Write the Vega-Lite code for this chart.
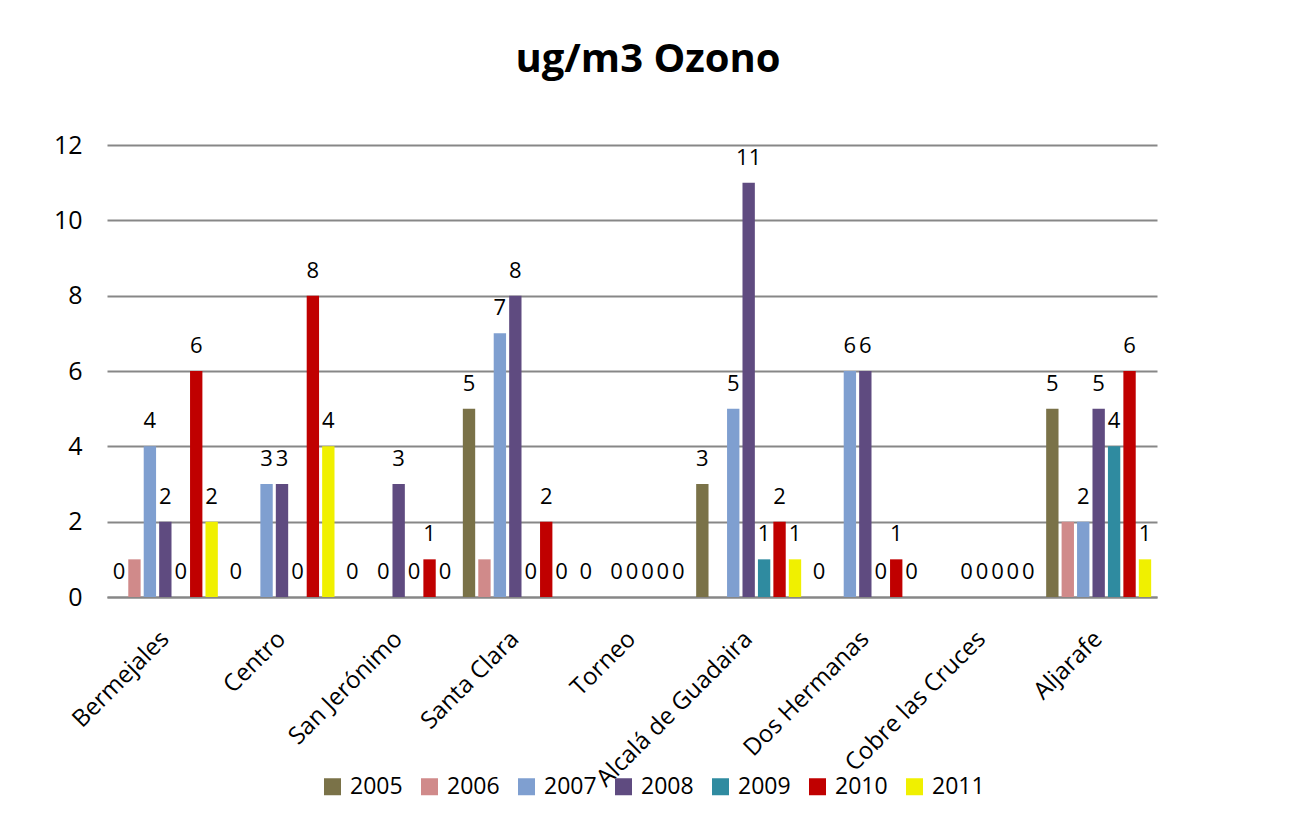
{
  "$schema": "https://vega.github.io/schema/vega-lite/v6.json",
  "width": 1050,
  "height": 452,
  "autosize": {"type": "none"},
  "padding": {"left": 107, "top": 145, "right": 142, "bottom": 225},
  "background": "white",
  "title": {"text": "ug/m3 Ozono", "font": "Open Sans", "fontSize": 40, "fontWeight": "bold", "color": "black", "anchor": "middle", "frame": "group", "baseline": "alphabetic", "offset": 21, "dx": 16},
  "data": {"values": [
    {"site": "Bermejales", "year": "2005", "value": 0},
    {"site": "Bermejales", "year": "2006", "value": 1},
    {"site": "Bermejales", "year": "2007", "value": 4},
    {"site": "Bermejales", "year": "2008", "value": 2},
    {"site": "Bermejales", "year": "2009", "value": 0},
    {"site": "Bermejales", "year": "2010", "value": 6},
    {"site": "Bermejales", "year": "2011", "value": 2},
    {"site": "Centro", "year": "2005", "value": 0},
    {"site": "Centro", "year": "2006", "value": 0},
    {"site": "Centro", "year": "2007", "value": 3},
    {"site": "Centro", "year": "2008", "value": 3},
    {"site": "Centro", "year": "2009", "value": 0},
    {"site": "Centro", "year": "2010", "value": 8},
    {"site": "Centro", "year": "2011", "value": 4},
    {"site": "San Jerónimo", "year": "2005", "value": 0},
    {"site": "San Jerónimo", "year": "2006", "value": 0},
    {"site": "San Jerónimo", "year": "2007", "value": 0},
    {"site": "San Jerónimo", "year": "2008", "value": 3},
    {"site": "San Jerónimo", "year": "2009", "value": 0},
    {"site": "San Jerónimo", "year": "2010", "value": 1},
    {"site": "San Jerónimo", "year": "2011", "value": 0},
    {"site": "Santa Clara", "year": "2005", "value": 5},
    {"site": "Santa Clara", "year": "2006", "value": 1},
    {"site": "Santa Clara", "year": "2007", "value": 7},
    {"site": "Santa Clara", "year": "2008", "value": 8},
    {"site": "Santa Clara", "year": "2009", "value": 0},
    {"site": "Santa Clara", "year": "2010", "value": 2},
    {"site": "Santa Clara", "year": "2011", "value": 0},
    {"site": "Torneo", "year": "2005", "value": 0},
    {"site": "Torneo", "year": "2006", "value": 0},
    {"site": "Torneo", "year": "2007", "value": 0},
    {"site": "Torneo", "year": "2008", "value": 0},
    {"site": "Torneo", "year": "2009", "value": 0},
    {"site": "Torneo", "year": "2010", "value": 0},
    {"site": "Torneo", "year": "2011", "value": 0},
    {"site": "Alcalá de Guadaira", "year": "2005", "value": 3},
    {"site": "Alcalá de Guadaira", "year": "2006", "value": 0},
    {"site": "Alcalá de Guadaira", "year": "2007", "value": 5},
    {"site": "Alcalá de Guadaira", "year": "2008", "value": 11},
    {"site": "Alcalá de Guadaira", "year": "2009", "value": 1},
    {"site": "Alcalá de Guadaira", "year": "2010", "value": 2},
    {"site": "Alcalá de Guadaira", "year": "2011", "value": 1},
    {"site": "Dos Hermanas", "year": "2005", "value": 0},
    {"site": "Dos Hermanas", "year": "2006", "value": 0},
    {"site": "Dos Hermanas", "year": "2007", "value": 6},
    {"site": "Dos Hermanas", "year": "2008", "value": 6},
    {"site": "Dos Hermanas", "year": "2009", "value": 0},
    {"site": "Dos Hermanas", "year": "2010", "value": 1},
    {"site": "Dos Hermanas", "year": "2011", "value": 0},
    {"site": "Cobre las Cruces", "year": "2005", "value": null},
    {"site": "Cobre las Cruces", "year": "2006", "value": 0},
    {"site": "Cobre las Cruces", "year": "2007", "value": 0},
    {"site": "Cobre las Cruces", "year": "2008", "value": 0},
    {"site": "Cobre las Cruces", "year": "2009", "value": 0},
    {"site": "Cobre las Cruces", "year": "2010", "value": 0},
    {"site": "Cobre las Cruces", "year": "2011", "value": 0},
    {"site": "Aljarafe", "year": "2005", "value": 5},
    {"site": "Aljarafe", "year": "2006", "value": 2},
    {"site": "Aljarafe", "year": "2007", "value": 2},
    {"site": "Aljarafe", "year": "2008", "value": 5},
    {"site": "Aljarafe", "year": "2009", "value": 4},
    {"site": "Aljarafe", "year": "2010", "value": 6},
    {"site": "Aljarafe", "year": "2011", "value": 1}
  ]},
  "encoding": {
    "x": {"field": "site", "type": "nominal", "sort": null,
      "scale": {"paddingInner": 0.1, "paddingOuter": 0.05},
      "axis": {"title": null, "labelAngle": -45, "labelAlign": "right", "labelBaseline": "middle", "labelFont": "Open Sans", "labelFontSize": 24, "labelColor": "black", "labelLimit": 0, "ticks": false, "domainColor": "#878787", "domainWidth": 2, "labelPadding": 38, "grid": false}},
    "xOffset": {"field": "year", "type": "nominal", "scale": {"paddingInner": 0.2}},
    "y": {"field": "value", "type": "quantitative",
      "scale": {"domain": [0, 12]},
      "axis": {"title": null, "domain": false, "ticks": false, "values": [0, 2, 4, 6, 8, 10, 12], "labelFont": "Open Sans", "labelFontSize": 25, "labelColor": "black", "labelPadding": 25, "gridColor": "#878787", "gridWidth": 2}}
  },
  "layer": [
    {"mark": {"type": "bar"},
     "encoding": {"color": {"field": "year", "type": "nominal",
       "scale": {"domain": ["2005", "2006", "2007", "2008", "2009", "2010", "2011"], "range": ["#7A7248", "#D08A8A", "#7F9FD0", "#5F4B80", "#2F8BA0", "#C00000", "#F0F000"]},
       "legend": {"orient": "none", "legendX": 214, "legendY": 630, "padding": 0, "direction": "horizontal", "title": null, "symbolType": "square", "symbolSize": 289, "symbolStrokeWidth": 0, "labelFont": "Open Sans", "labelFontSize": 23, "labelColor": "black", "columnPadding": 15, "labelOffset": 6}}}},
    {"transform": [{"filter": "datum.year != '2006' && isValid(datum.value)"}],
     "mark": {"type": "text", "baseline": "alphabetic", "dy": -18, "font": "Open Sans", "fontSize": 22, "color": "black"},
     "encoding": {"text": {"field": "value", "type": "quantitative"}}}
  ],
  "config": {"view": {"stroke": null}}
}
